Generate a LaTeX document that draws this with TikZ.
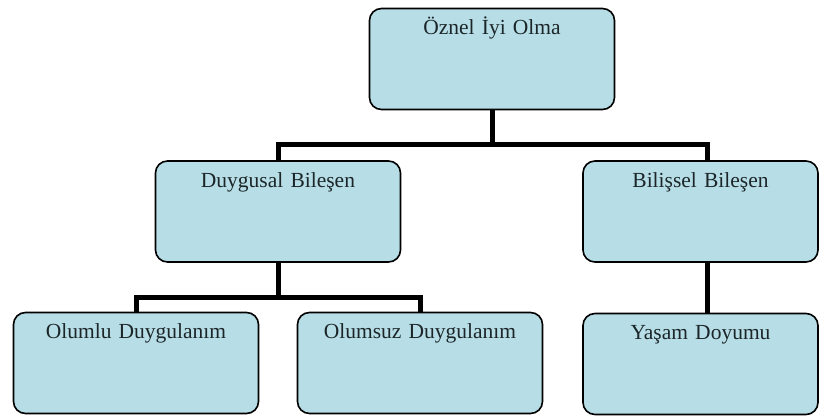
\documentclass[tikz,border=0pt]{standalone}
\usepackage{fontspec}
\setmainfont{Liberation Serif}
\usepackage{tikz}
\usetikzlibrary{positioning, calc}
\definecolor{kutumavi}{RGB}{183,222,231}
\definecolor{yazi}{RGB}{28,38,40}

\begin{document}
\begin{tikzpicture}[x=1pt, y=-1pt,
    kutu/.style={draw, line width=1.6pt, rounded corners=12pt, fill=kutumavi, text=yazi,
        text width=245pt, align=center, inner sep=0pt, text height=26pt, text depth=75pt,
        font=\fontsize{21.5}{26}\selectfont},
    dar/.style={kutu, text width=235pt},
    bag/.style={draw, line width=5pt, line join=miter}]
    \useasboundingbox (0,0) rectangle (819,415);

    \node[kutu] (oz) at (492,59) {Öznel İyi Olma};
    \node[kutu] (duy) at (278,211.5) {Duygusal Bileşen};
    \node[dar] (bil) at (700.5,211.5) {Bilişsel Bileşen};
    \node[kutu] (olu) at (136,363) {Olumlu Duygulanım};
    \node[kutu] (olz) at (420,363) {Olumsuz Duygulanım};
    \node[dar] (yas) at (700.5,364) {Yaşam Doyumu};

    \coordinate (ust) at (492,144);
    \coordinate (alt) at (278,297);

    \path[bag]
        (oz.south) -- (ust)
        (duy.north) |- ($(bil.north |- ust)+(6.5,0)$) -- ($(bil.north)+(6.5,0)$)
        (duy.south) -- (alt)
        (olu.north) |- (olz.north |- alt) -- (olz.north)
        ($(bil.south)+(6.5,0)$) -- ($(yas.north)+(6.5,0)$);
\end{tikzpicture}
\end{document}
